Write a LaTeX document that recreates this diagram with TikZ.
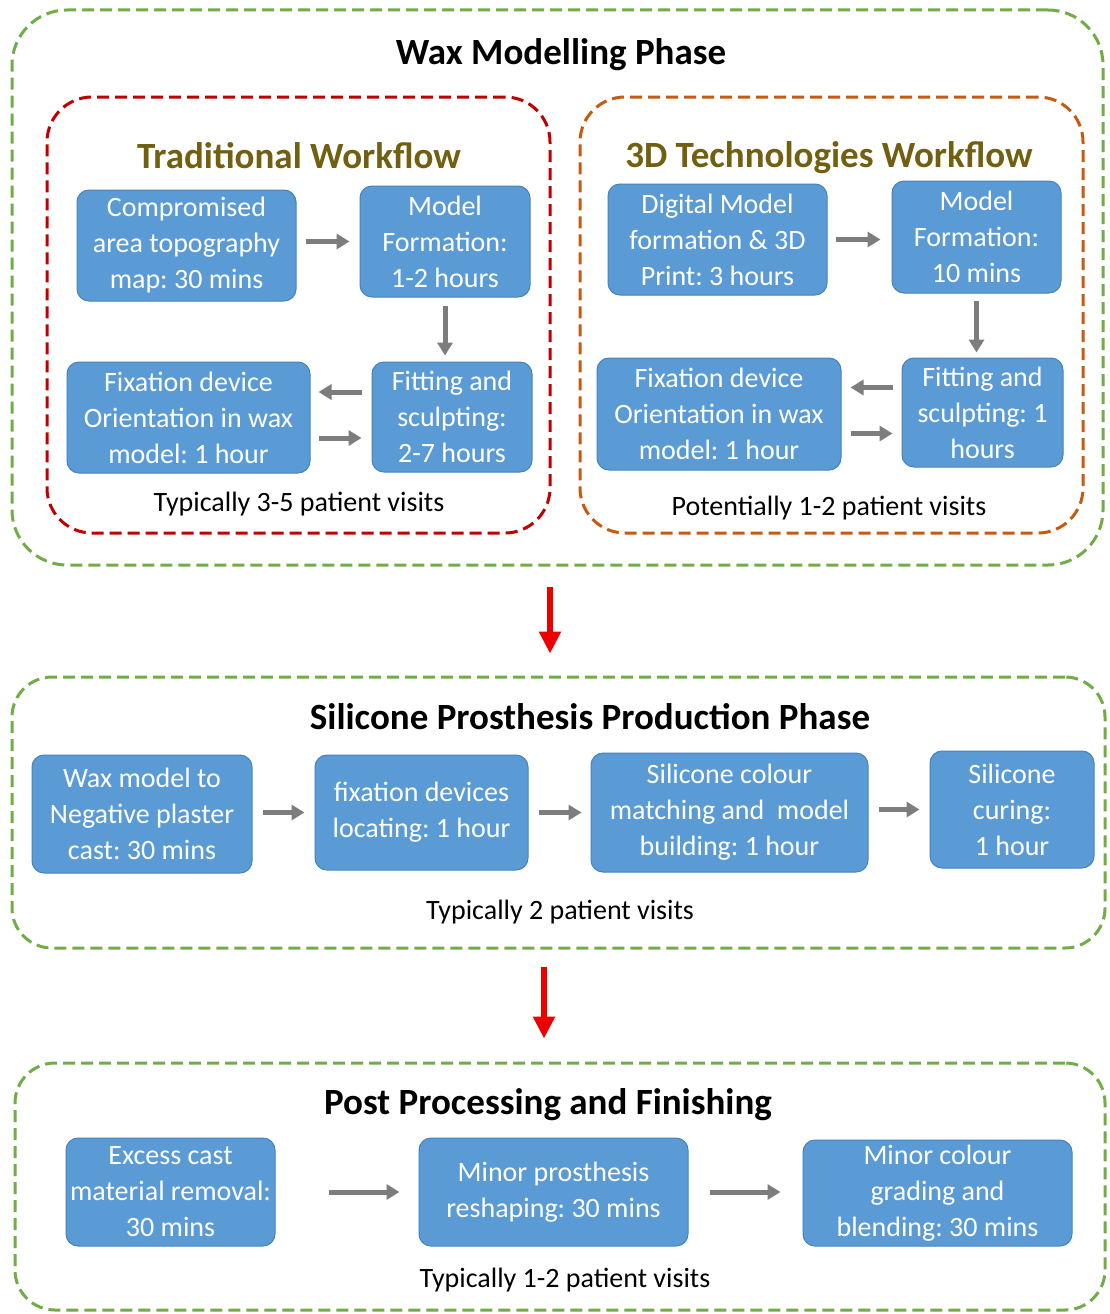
\documentclass[tikz,border=0pt]{standalone}
\usepackage{fontspec}
\setmainfont{Carlito}
\usetikzlibrary{arrows.meta}
\frenchspacing
\definecolor{boxblue}{RGB}{91,155,213}
\definecolor{boxedge}{RGB}{70,130,190}
\definecolor{phgreen}{RGB}{112,173,71}
\definecolor{trred}{RGB}{192,0,0}
\definecolor{tdorange}{RGB}{197,90,17}
\definecolor{olive}{RGB}{112,96,16}
\definecolor{garr}{RGB}{125,125,125}
\definecolor{rarr}{RGB}{235,0,0}
\tikzset{
  blk/.style={draw=boxedge, line width=1pt, fill=boxblue, rounded corners=12pt, text=white, align=center, inner sep=0pt, font=\fontsize{28}{36}\selectfont\frenchspacing},
  phframe/.style={dashed, dash pattern=on 12pt off 6pt, line width=3pt, rounded corners=#1, inner sep=0pt},
  phframe/.default=55pt,
  ttl/.style={font=\fontsize{37}{44}\selectfont\bfseries, inner sep=0pt, yshift=-3pt},
  captxt/.style={font=\fontsize{28}{34}\selectfont, inner sep=0pt, yshift=-2pt},
  garrow/.style={draw=garr, line width=5pt, -{Triangle[length=13pt,width=15pt]}},
  rarrow/.style={draw=rarr, line width=6pt, -{Triangle[length=22pt,width=21pt]}},
}
\begin{document}
\begin{tikzpicture}[x=1pt,y=-1pt]
\useasboundingbox[fill=white] (0,0) rectangle (1109,1314);

% ---------- Phase 1 ----------
\node[phframe, draw=phgreen, minimum width=1091pt, minimum height=555pt] (p1) at (557.5,287.5) {};
\node[ttl] (t1) at (561,52) {Wax Modelling Phase};

\node[phframe=45pt, draw=trred, minimum width=503pt, minimum height=436pt] (ftr) at (298.5,315) {};
\node[ttl, text=olive] (ttr) at (299,153) {Traditional Workflow};
\node[blk, minimum width=219pt, minimum height=111pt] (B1) at (186.5,245.5) {Compromised\\area topography\\map: 30 mins};
\node[blk, minimum width=170pt, minimum height=111pt] (B2) at (445,241.5) {Model\\Formation:\\1-2 hours};
\node[blk, minimum width=160pt, minimum height=110pt] (B3) at (452,417) {Fitting and\\sculpting:\\2-7 hours};
\node[blk, minimum width=243pt, minimum height=111pt] (B4) at (188.5,417.5) {Fixation device\\Orientation in wax\\model: 1 hour};
\node[captxt] (ctr) at (299,502) {Typically 3-5 patient visits};
\draw[garrow, shorten <=9pt, shorten >=10pt] (B1.east |- B2.center) -- (B2.west);
\draw[garrow, shorten <=8pt, shorten >=6pt] (B2.south) -- (B2.south |- B3.north);
\draw[garrow, shorten <=10pt, shorten >=8pt] ([yshift=25pt]B3.west) -- ([yshift=25pt]B3.west -| B4.east);
\draw[garrow, shorten <=8pt, shorten >=10pt] ([yshift=-21pt]B3.west -| B4.east) -- ([yshift=-21pt]B3.west);

\node[phframe=45pt, draw=tdorange, minimum width=503pt, minimum height=436pt] (ftd) at (831.5,315) {};
\node[ttl, text=olive] (ttd) at (829,155) {3D Technologies Workflow};
\node[blk, minimum width=219pt, minimum height=111pt] (C1) at (717.5,239.5) {Digital Model\\formation \& 3D\\Print: 3 hours};
\node[blk, minimum width=169pt, minimum height=112pt] (C2) at (976.5,237) {Model\\Formation:\\10 mins};
\node[blk, minimum width=161pt, minimum height=109pt] (C3) at (982.5,412.5) {Fitting and\\sculpting: 1\\hours};
\node[blk, minimum width=244pt, minimum height=112pt] (C4) at (719,414) {Fixation device\\Orientation in wax\\model: 1 hour};
\node[captxt] (ctd) at (829,506) {Potentially 1-2 patient visits};
\draw[garrow, shorten <=8pt, shorten >=11pt] (C1.east) -- (C1.east -| C2.west);
\draw[garrow, shorten <=7pt, shorten >=5pt] (C2.south) -- (C2.south |- C3.north);
\draw[garrow, shorten <=9pt, shorten >=9pt] ([yshift=25pt]C3.west) -- ([yshift=25pt]C3.west -| C4.east);
\draw[garrow, shorten <=9pt, shorten >=9pt] ([yshift=-21pt]C3.west -| C4.east) -- ([yshift=-21pt]C3.west);

% ---------- Phase 2 ----------
\node[phframe=40pt, draw=phgreen, minimum width=1093pt, minimum height=271pt] (p2) at (558.5,812.5) {};
\node[ttl] (t2) at (590,714) {Silicone Prosthesis Production Phase};
\node[blk, minimum width=220pt, minimum height=118pt] (D1) at (142,814) {Wax model to\\Negative plaster\\cast: 30 mins};
\node[blk, minimum width=213pt, minimum height=115pt] (D2) at (421.5,812.5) {fixation devices\\locating: 1 hour};
\node[blk, minimum width=277pt, minimum height=119pt] (D3) at (729.5,812.5) {Silicone colour\\matching and\ \ model\\building: 1 hour};
\node[blk, minimum width=164pt, minimum height=117pt] (D4) at (1012,809.5) {Silicone\\curing:\\1 hour};
\node[captxt] (c2) at (560,910) {Typically 2 patient visits};
\draw[garrow, shorten <=10pt, shorten >=10pt] (D1.east |- D2.center) -- (D2.west);
\draw[garrow, shorten <=10pt, shorten >=9pt] (D2.east) -- (D2.east -| D3.west);
\draw[garrow, shorten <=10pt, shorten >=10pt] (D3.east |- D4.center) -- (D4.west);

% ---------- Phase 3 ----------
\node[phframe=40pt, draw=phgreen, minimum width=1090pt, minimum height=247pt] (p3) at (560,1186.5) {};
\node[ttl] (t3) at (548,1102) {Post Processing and Finishing};
\node[blk, minimum width=209pt, minimum height=108pt] (E1) at (170.5,1192) {Excess cast\\material removal:\\30 mins};
\node[blk, minimum width=269pt, minimum height=108pt] (E2) at (553.5,1192) {Minor prosthesis\\reshaping: 30 mins};
\node[blk, minimum width=269pt, minimum height=106pt] (E3) at (937.5,1193) {Minor colour\\grading and\\blending: 30 mins};
\node[captxt] (c3) at (565,1278) {Typically 1-2 patient visits};
\draw[garrow, shorten <=53pt, shorten >=19pt] (E1.east) -- (E2.west);
\draw[garrow, shorten <=21pt, shorten >=22pt] (E2.east) -- (E2.east -| E3.west);

% ---------- Red arrows ----------
\coordinate (ra) at (550,0);
\coordinate (rb) at (544,0);
\draw[rarrow, shorten <=20pt, shorten >=22pt] (p1.south -| ra) -- (p2.north -| ra);
\draw[rarrow, shorten <=17pt, shorten >=23pt] (p2.south -| rb) -- (p3.north -| rb);
\end{tikzpicture}
\end{document}
